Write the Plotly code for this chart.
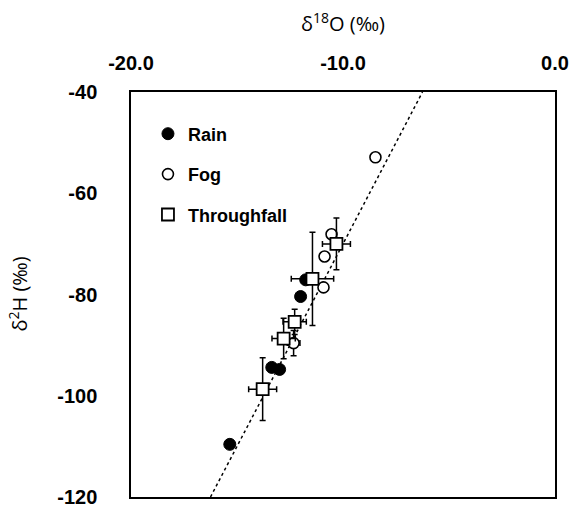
import plotly.graph_objects as go

# ---- data ----
rain_x = [-11.76, -12.00, -13.36, -12.99, -15.34]
rain_y = [-77.1, -80.4, -94.4, -94.8, -109.6]

fog_x = [-8.47, -10.54, -10.87, -10.92, -12.33]
fog_y = [-52.9, -68.1, -72.5, -78.6, -89.6]
fog_ex = [0, 0, 0, 0, 0.3]
fog_ey = [0, 0, 0, 0, 2.5]

tf_x = [-10.31, -11.44, -12.28, -12.80, -13.79]
tf_y = [-70.0, -76.9, -85.4, -88.7, -98.7]
tf_ex = [0.66, 1.0, 0.55, 0.55, 0.66]
tf_ey = [5.1, 9.2, 2.5, 4.0, 6.2]

line_x = [-16.25, -6.25]
line_y = [-120, -40]

x_ticks = [-20, -10, 0]
x_ticktext = ["-20.0", "-10.0", "0.0"]
y_ticks = [-40, -60, -80, -100, -120]
y_ticktext = ["-40", "-60", "-80", "-100", "-120"]

fig = go.Figure()

fig.add_trace(go.Scatter(
    x=line_x, y=line_y, mode="lines",
    line=dict(color="black", width=1.5, dash="dot"),
    showlegend=False, hoverinfo="skip"))

fig.add_trace(go.Scatter(
    x=rain_x, y=rain_y, mode="markers", name="Rain", legendgroup="a",
    marker=dict(symbol="circle", size=12, color="black",
                line=dict(color="black", width=1))))

fig.add_trace(go.Scatter(
    x=fog_x, y=fog_y, mode="markers", name="Fog", legendgroup="b",
    error_x=dict(type="data", array=fog_ex, color="black", thickness=1.5, width=3),
    error_y=dict(type="data", array=fog_ey, color="black", thickness=1.5, width=3),
    marker=dict(symbol="circle", size=11, color="white",
                line=dict(color="black", width=1.6))))

fig.add_trace(go.Scatter(
    x=tf_x, y=tf_y, mode="markers", name="Throughfall", legendgroup="c",
    error_x=dict(type="data", array=tf_ex, color="black", thickness=1.5, width=3),
    error_y=dict(type="data", array=tf_ey, color="black", thickness=1.5, width=3),
    marker=dict(symbol="square", size=12, color="white",
                line=dict(color="black", width=1.8))))

tick_font = dict(family="Liberation Sans, Arial, sans-serif", size=20,
                 color="black", weight="bold")

fig.update_layout(
    width=578, height=517,
    margin=dict(l=131, r=22, t=92, b=9),
    paper_bgcolor="white", plot_bgcolor="white",
    font=dict(color="black"),
    showlegend=True,
    legend=dict(x=0.04, y=0.942, xanchor="left", yanchor="top",
                bgcolor="rgba(0,0,0,0)", tracegroupgap=14, itemwidth=30,
                font=dict(family="Liberation Sans, Arial, sans-serif", size=18,
                          color="black", weight="bold")),
    xaxis=dict(side="top", range=[-20, 0], tickvals=x_ticks, ticktext=x_ticktext,
               showgrid=False, zeroline=False, ticks="",
               showline=True, linecolor="black", linewidth=1.5, mirror=True,
               tickfont=tick_font, ticklabelstandoff=12),
    yaxis=dict(range=[-120, -40], tickvals=y_ticks, ticktext=y_ticktext,
               showgrid=False, zeroline=False, ticks="",
               showline=True, linecolor="black", linewidth=1.5, mirror=True,
               tickfont=tick_font, ticklabelstandoff=28),
    annotations=[
        dict(text="δ<sup>18</sup>O (‰)", xref="paper", yref="paper",
             x=0.5, y=1, yshift=70, showarrow=False, xanchor="center", yanchor="middle",
             font=dict(family="Open Sans, Noto Sans, sans-serif", size=20, color="black")),
        dict(text="δ<sup>2</sup>H (‰)", xref="paper", yref="paper",
             x=0, y=0.5, xshift=-113, showarrow=False, textangle=-90,
             xanchor="center", yanchor="middle",
             font=dict(family="Open Sans, Noto Sans, sans-serif", size=20, color="black")),
    ],
)

fig.write_html("out.html")
